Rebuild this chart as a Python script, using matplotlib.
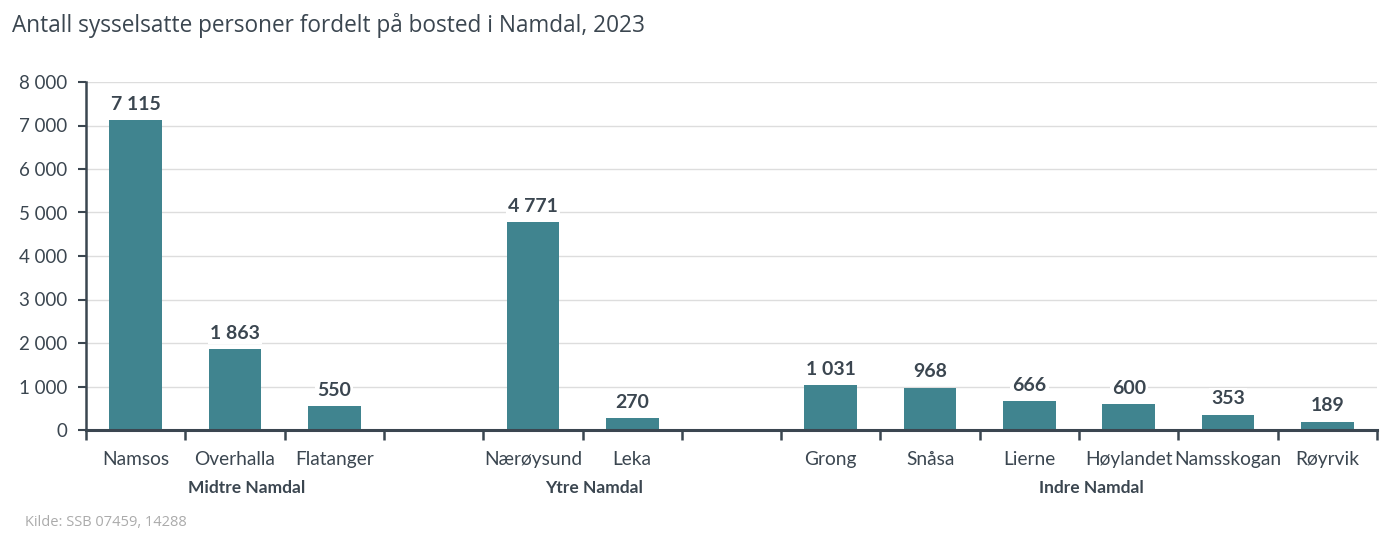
import matplotlib
matplotlib.use("Agg")
import matplotlib.pyplot as plt
import numpy as np

title = "Antall sysselsatte personer fordelt på bosted i Namdal, 2023"
source = "Kilde: SSB 07459, 14288"
groups = ["Midtre Namdal", "Ytre Namdal", "Indre Namdal"]
group_members = [["Namsos", "Overhalla", "Flatanger"],
                 ["Nærøysund", "Leka"],
                 ["Grong", "Snåsa", "Lierne", "Høylandet", "Namsskogan", "Røyrvik"]]
group_values = [[7115, 1863, 550],
                [4771, 270],
                [1031, 968, 666, 600, 353, 189]]
yticks = [0, 1000, 2000, 3000, 4000, 5000, 6000, 7000, 8000]

bar_color = "#40848F"
text_color = "#3B4650"

# build slots with a blank slot between groups
cats, vals, group_spans = [], [], []
for gi, (mem, v) in enumerate(zip(group_members, group_values)):
    start = len(cats)
    cats += mem
    vals += v
    group_spans.append((start, len(cats) - 1))
    if gi < len(group_members) - 1:
        cats.append("")
        vals.append(np.nan)

x = np.arange(len(cats))
fig = plt.figure(figsize=(13.91, 5.45), dpi=100)
ax = fig.add_axes([86/1391, 1-430/545, (1377-86)/1391, (430-82)/545])

def fmt(v):
    return f"{int(v):,}".replace(",", " ")

ax.bar(x, vals, width=0.53, color=bar_color, zorder=2)
for xi, v in zip(x, vals):
    if not np.isnan(v):
        ax.text(xi, v + 170, fmt(v), ha="center", va="bottom", fontsize=14,
                fontweight="bold", color=text_color, family="Lato",
                bbox=dict(facecolor="white", edgecolor="none", pad=1.5), zorder=3)

ax.set_xlim(-0.5, len(cats) - 0.5)
ax.set_ylim(0, 8000)
ax.set_yticks(yticks)
ax.set_yticklabels([fmt(t) for t in yticks], fontsize=13.5, color=text_color, family="Lato")
ax.yaxis.grid(True, color="#DDDDDD", linewidth=1, zorder=0)
ax.set_axisbelow(True)

ax.set_xticks(np.arange(len(cats) + 1) - 0.5)
ax.set_xticklabels([])
ax.set_xticks(x, minor=True)
ax.set_xticklabels(cats, minor=True, fontsize=13.8, color=text_color, family="Lato")
ax.tick_params(axis="x", which="minor", length=0, pad=15)
ax.tick_params(axis="x", which="major", length=7, width=1.8, color=text_color, direction="out")
ax.tick_params(axis="y", length=6, width=1.5, color=text_color, pad=7.5)

for s in ["top", "right"]:
    ax.spines[s].set_visible(False)
ax.spines["left"].set_color(text_color)
ax.spines["left"].set_linewidth(1.8)
ax.spines["bottom"].set_color(text_color)
ax.spines["bottom"].set_linewidth(2.2)

for g, (a, b) in zip(groups, group_spans):
    cx = (a + b) / 2 + 0.12
    ax.text(cx, -0.168, g, transform=ax.get_xaxis_transform(), ha="center", va="center",
            fontsize=12.5, fontweight="bold", color=text_color, family="Lato")

fig.text(12/1391, 1-25/545, title, fontsize=16.3, color=text_color, family="Open Sans",
         ha="left", va="center")
fig.text(25/1391, 1-523/545, source, fontsize=10.5, color="#ABABAB", family="Open Sans",
         ha="left", va="center")

fig.savefig("out.png", dpi=100, facecolor="white")
